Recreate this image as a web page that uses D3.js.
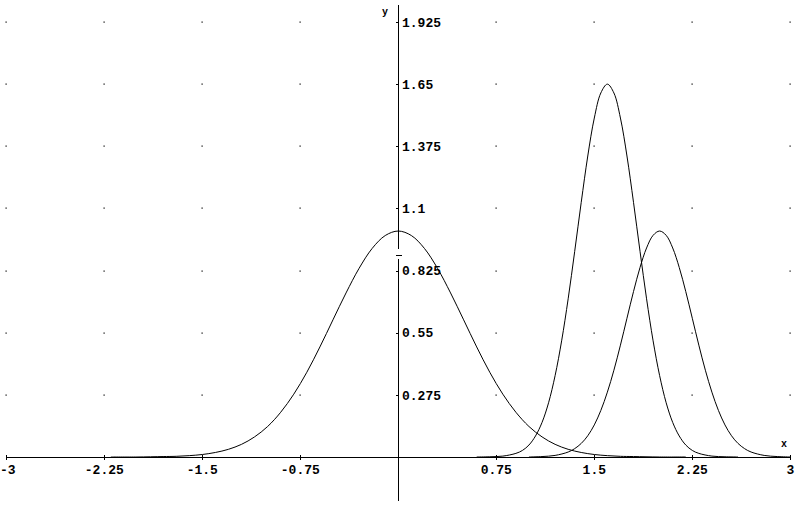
<!DOCTYPE html>
<html>
<head>
<meta charset="utf-8">
<script src="https://cdn.jsdelivr.net/npm/d3@7"></script>
<style>
  html, body { margin: 0; padding: 0; background: #fff; }
  svg { display: block; }
  text { font-family: "Liberation Mono", "DejaVu Sans Mono", monospace; font-weight: bold; fill: #000; }
</style>
</head>
<body>
<svg id="chart" width="796" height="508"></svg>
<script>
// ---- data ----
const xTicks = [-3, -2.25, -1.5, -0.75, 0.75, 1.5, 2.25, 3];
const xTickLabels = ["-3", "-2.25", "-1.5", "-0.75", "0.75", "1.5", "2.25", "3"];
const yTicks = [0.275, 0.55, 0.825, 1.1, 1.375, 1.65, 1.925];
const yTickLabels = ["0.275", "0.55", "0.825", "1.1", "1.375", "1.65", "1.925"];

// curve 1: wide bell centred at 0
const c1x = [-2.2, -2.0, -1.8, -1.7, -1.6, -1.5, -1.4, -1.3, -1.2, -1.1, -1.0, -0.9, -0.8, -0.7, -0.6, -0.5, -0.4, -0.3, -0.2, -0.1, 0,
             0.1, 0.2, 0.3, 0.4, 0.5, 0.6, 0.7, 0.8, 0.9, 1.0, 1.1, 1.2, 1.3, 1.4, 1.5, 1.6, 1.7, 1.8, 2.0, 2.2];
const c1y = [0.000, 0.000, 0.002, 0.003, 0.006, 0.011, 0.020, 0.034, 0.056, 0.089, 0.135, 0.198, 0.278, 0.375, 0.487, 0.607, 0.726, 0.835, 0.923, 0.980, 1.000,
             0.980, 0.923, 0.835, 0.726, 0.607, 0.487, 0.375, 0.278, 0.198, 0.135, 0.089, 0.056, 0.034, 0.020, 0.011, 0.006, 0.003, 0.002, 0.000, 0.000];

// curve 2: tall narrow peak near 1.6
const c2x = [0.6, 0.7, 0.8, 0.9, 0.95, 1.0, 1.05, 1.1, 1.15, 1.2, 1.25, 1.3, 1.35, 1.4, 1.45, 1.5, 1.55, 1.6,
             1.65, 1.7, 1.75, 1.8, 1.85, 1.9, 1.95, 2.0, 2.05, 2.1, 2.15, 2.2, 2.25, 2.3, 2.4, 2.5, 2.6];
const c2y = [0.000, 0.001, 0.004, 0.016, 0.029, 0.053, 0.093, 0.153, 0.240, 0.360, 0.514, 0.700, 0.910, 1.127, 1.332, 1.500, 1.611, 1.650,
             1.611, 1.500, 1.332, 1.127, 0.910, 0.700, 0.514, 0.360, 0.240, 0.153, 0.093, 0.053, 0.029, 0.016, 0.004, 0.001, 0.000];

// curve 3: unit peak at 2
const c3x = [1.0, 1.1, 1.2, 1.3, 1.35, 1.4, 1.45, 1.5, 1.55, 1.6, 1.65, 1.7, 1.75, 1.8, 1.85, 1.9, 1.95, 2.0,
             2.05, 2.1, 2.15, 2.2, 2.25, 2.3, 2.35, 2.4, 2.45, 2.5, 2.55, 2.6, 2.65, 2.7, 2.8, 2.9, 3.0];
const c3y = [0.000, 0.002, 0.007, 0.022, 0.037, 0.060, 0.094, 0.142, 0.206, 0.287, 0.384, 0.495, 0.614, 0.732, 0.839, 0.925, 0.981, 1.000,
             0.981, 0.925, 0.839, 0.732, 0.614, 0.495, 0.384, 0.287, 0.206, 0.142, 0.094, 0.060, 0.037, 0.022, 0.007, 0.002, 0.000];

const series = [
  { xs: c1x, ys: c1y },
  { xs: c2x, ys: c2y },
  { xs: c3x, ys: c3y }
];

// ---- drawing ----
const svg = d3.select("#chart");
const x = d3.scaleLinear().domain([-3, 3]).range([6.3, 790.3]);
const y = d3.scaleLinear().domain([0, 1.925]).range([457, 22]);

// dotted grid
const gridPts = [];
xTicks.forEach(xv => yTicks.forEach(yv => gridPts.push([xv, yv])));
svg.append("g").selectAll("rect").data(gridPts).join("rect")
  .attr("x", d => Math.round(x(d[0])) - 0.5)
  .attr("y", d => Math.round(y(d[1])) - 0.5)
  .attr("width", 1.2).attr("height", 1.2)
  .attr("fill", "#000");

// x axis
const x0 = Math.round(x(0)) + 0.5;
const y0 = Math.round(y(0)) + 0.5;
svg.append("line")
  .attr("x1", x(-3)).attr("x2", x(3))
  .attr("y1", y0).attr("y2", y0)
  .attr("stroke", "#000").attr("stroke-width", 1).attr("shape-rendering", "crispEdges");
const xt = svg.append("g");
xTicks.forEach((v, i) => {
  const px = Math.round(x(v)) + 0.5;
  xt.append("line").attr("x1", px).attr("x2", px).attr("y1", y0 - 2.5).attr("y2", y0 + 2.5)
    .attr("stroke", "#000").attr("shape-rendering", "crispEdges");
  const first = i === 0;
  xt.append("text").attr("x", first ? 0 : x(v)).attr("y", 474)
    .attr("text-anchor", first ? "start" : "middle").attr("font-size", 13).text(xTickLabels[i]);
});

// y axis (with the small break seen in the original)
svg.append("line")
  .attr("x1", x0).attr("x2", x0).attr("y1", 5).attr("y2", 249)
  .attr("stroke", "#000").attr("shape-rendering", "crispEdges");
svg.append("line")
  .attr("x1", x0).attr("x2", x0).attr("y1", 259).attr("y2", 501)
  .attr("stroke", "#000").attr("shape-rendering", "crispEdges");
svg.append("line")
  .attr("x1", x0 - 3).attr("x2", x0 + 3).attr("y1", 255.5).attr("y2", 255.5)
  .attr("stroke", "#000").attr("shape-rendering", "crispEdges");

const yt = svg.append("g");
yTicks.forEach((v, i) => {
  const py = Math.round(y(v)) + 0.5;
  yt.append("line").attr("x1", x0 - 3).attr("x2", x0).attr("y1", py).attr("y2", py)
    .attr("stroke", "#000").attr("shape-rendering", "crispEdges");
  yt.append("text").attr("x", 402).attr("y", y(v)).attr("dy", "0.36em")
    .attr("font-size", 13).text(yTickLabels[i]);
});

// axis names
svg.append("text").attr("x", 385).attr("y", 15).attr("text-anchor", "middle").attr("font-size", 10).text("y");
svg.append("text").attr("x", 784).attr("y", 447).attr("text-anchor", "middle").attr("font-size", 10).text("x");

// curves
const line = d3.line()
  .x(d => x(d[0]))
  .y(d => y(d[1]))
  .curve(d3.curveCatmullRom.alpha(0.5));
svg.append("g").selectAll("path").data(series).join("path")
  .attr("d", s => line(s.xs.map((xv, i) => [xv, s.ys[i]])))
  .attr("fill", "none")
  .attr("stroke", "#000")
  .attr("stroke-width", 1);
</script>
</body>
</html>
